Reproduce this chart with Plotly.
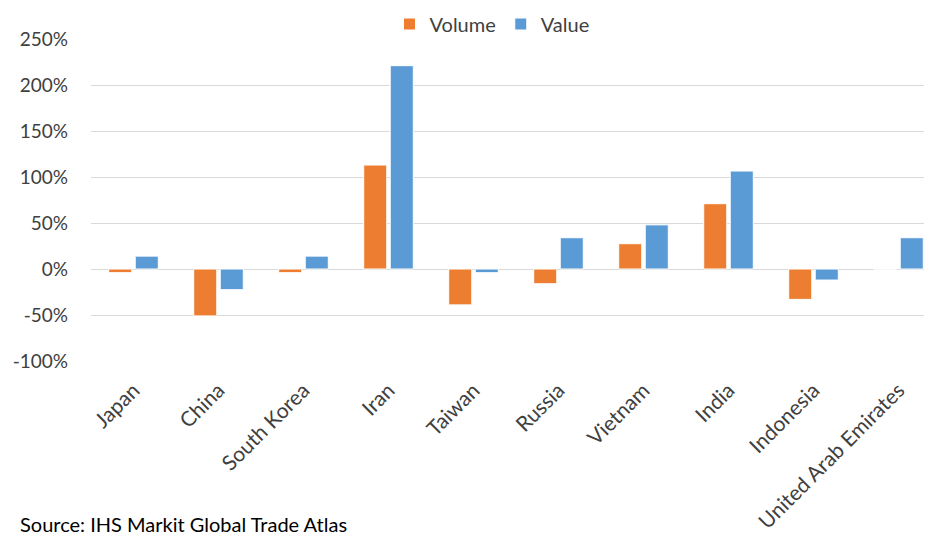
import plotly.graph_objects as go

countries = ["Japan", "China", "South Korea", "Iran", "Taiwan", "Russia",
             "Vietnam", "India", "Indonesia", "United Arab Emirates"]
volume = [-4, -51, -4, 113, -39, -16, 27.5, 71, -33, 0]
value = [14, -22.5, 14, 221, -4, 34, 48, 106.5, -12, 34]
y_ticks = [-100, -50, 0, 50, 100, 150, 200, 250]
y_tick_labels = ["-100%", "-50%", "0%", "50%", "100%", "150%", "200%", "250%"]

FONT = "Lato"
W, H = 924, 532  # page body has an 8px default margin
fig = go.Figure()
fig.add_trace(go.Bar(name="Volume", x=countries, y=volume,
                     marker=dict(color="#ED7D31", line=dict(color="white", width=1))))
fig.add_trace(go.Bar(name="Value", x=countries, y=value,
                     marker=dict(color="#5B9BD5", line=dict(color="white", width=1))))

fig.update_layout(
    width=W, height=H,
    margin=dict(l=83, r=0, t=31, b=H - 353, autoexpand=False),
    paper_bgcolor="white", plot_bgcolor="white",
    barmode="group", bargap=0.376, bargroupgap=0.13,
    font=dict(family=FONT, size=20, color="#404040"),
    showlegend=True,
    legend=dict(orientation="h", x=484 / W, xanchor="center",
                xref="container", y=1 - 16 / H, yref="container", yanchor="middle",
                font=dict(size=20, color="#404040"), itemwidth=30,
                traceorder="normal"),
)
fig.update_yaxes(range=[-100, 250], tickvals=y_ticks, ticktext=y_tick_labels,
                 showgrid=True, gridcolor="#D9D9D9", gridwidth=1,
                 zeroline=True, zerolinecolor="#D9D9D9", zerolinewidth=1,
                 showline=False, ticks="", ticklabelstandoff=22,
                 tickfont=dict(size=19, color="#404040"))
fig.update_xaxes(range=[-0.5, 9.394], tickangle=-45, showgrid=False,
                 showline=False, ticks="", ticklabelstandoff=12,
                 tickfont=dict(size=21, color="#404040"))

fig.add_annotation(text="Source: IHS Markit Global Trade Atlas", xref="paper", yref="paper",
                   x=-(83 - 10) / 841, y=-(516 - 353) / 322, xanchor="left", yanchor="middle",
                   showarrow=False, font=dict(size=20, color="#000000", family=FONT))

fig.write_html("out.html")
